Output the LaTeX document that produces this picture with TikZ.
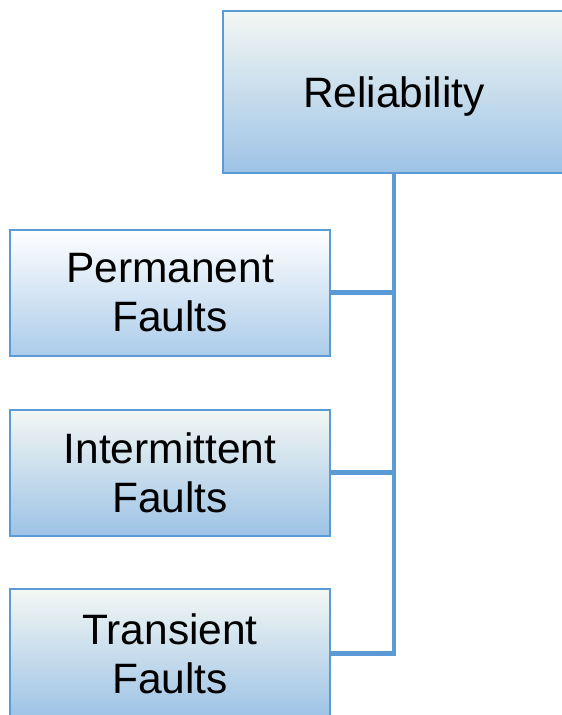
\documentclass[tikz,border=0pt]{standalone}
\usepackage{fontspec}
\setmainfont{Liberation Sans}
\definecolor{linkblue}{HTML}{5B9BD5}
\definecolor{fadetop}{HTML}{F3F7F3}
\definecolor{fadebot}{HTML}{9DC3E6}
\tikzset{
  faultbox/.style={draw=linkblue, line width=2pt, top color=fadetop, bottom color=fadebot,
    minimum width=320pt, minimum height=126pt, inner sep=0pt, align=center,
    font=\fontsize{42.5}{49}\selectfont},
  link/.style={draw=linkblue, line width=4.5pt}
}
\begin{document}
\begin{tikzpicture}[x=1pt,y=-1pt]
\useasboundingbox (0,0) rectangle (562,715);
\node[faultbox, minimum width=342pt, minimum height=162pt, text depth=0pt] (rel) at (394,92) {Reliability};
\node[faultbox, top color=white, bottom color=fadebot!85!white] (perm) at (170,292.5) {Permanent\\Faults};
\node[faultbox] (inter) at (170,472.5) {Intermittent\\Faults};
\node[faultbox, minimum height=129pt] (trans) at (170,653.5) {Transient\\Faults};
\path[link] (rel.south) |- (perm.east);
\path[link] (rel.south) |- (inter.east);
\path[link] (rel.south) |- (trans.east);
\end{tikzpicture}
\end{document}
